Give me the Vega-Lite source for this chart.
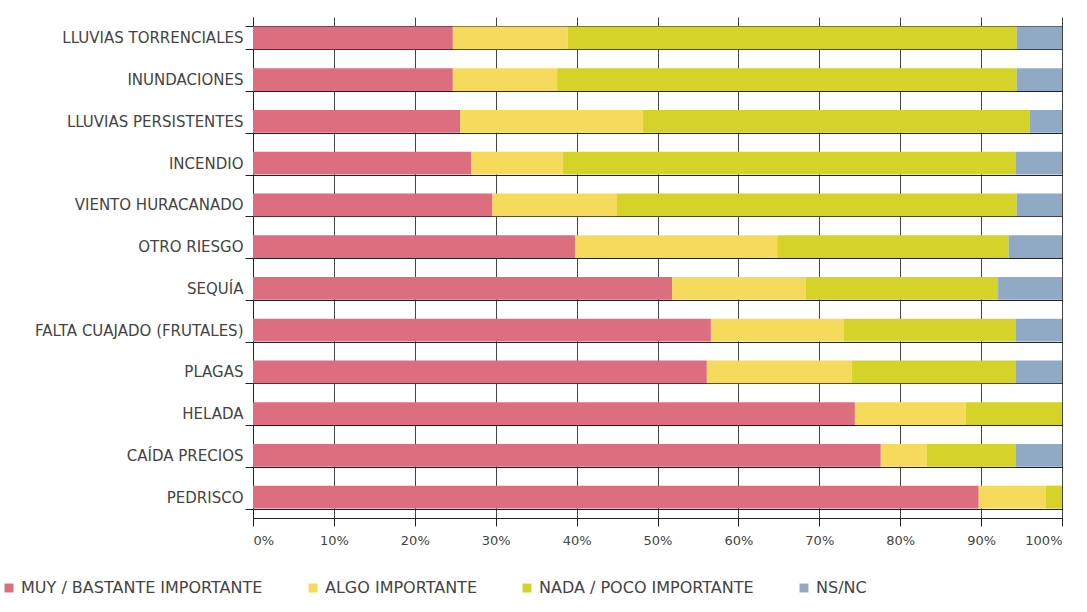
{
  "$schema": "https://vega.github.io/schema/vega-lite/v6.json",
  "width": 809,
  "height": 501,
  "autosize": {"type": "none"},
  "padding": {"left": 253, "top": 17, "right": 25, "bottom": 94},
  "background": "white",
  "config": {
    "font": "DejaVu Sans",
    "view": {"stroke": null}
  },
  "data": {
    "values": [
      {"riesgo": "LLUVIAS TORRENCIALES", "categoria": "MUY / BASTANTE IMPORTANTE", "valor": 24.7},
      {"riesgo": "LLUVIAS TORRENCIALES", "categoria": "ALGO IMPORTANTE", "valor": 14.2},
      {"riesgo": "LLUVIAS TORRENCIALES", "categoria": "NADA / POCO IMPORTANTE", "valor": 55.5},
      {"riesgo": "LLUVIAS TORRENCIALES", "categoria": "NS/NC", "valor": 5.6},
      {"riesgo": "INUNDACIONES", "categoria": "MUY / BASTANTE IMPORTANTE", "valor": 24.7},
      {"riesgo": "INUNDACIONES", "categoria": "ALGO IMPORTANTE", "valor": 12.9},
      {"riesgo": "INUNDACIONES", "categoria": "NADA / POCO IMPORTANTE", "valor": 56.8},
      {"riesgo": "INUNDACIONES", "categoria": "NS/NC", "valor": 5.6},
      {"riesgo": "LLUVIAS PERSISTENTES", "categoria": "MUY / BASTANTE IMPORTANTE", "valor": 25.6},
      {"riesgo": "LLUVIAS PERSISTENTES", "categoria": "ALGO IMPORTANTE", "valor": 22.6},
      {"riesgo": "LLUVIAS PERSISTENTES", "categoria": "NADA / POCO IMPORTANTE", "valor": 47.8},
      {"riesgo": "LLUVIAS PERSISTENTES", "categoria": "NS/NC", "valor": 4.0},
      {"riesgo": "INCENDIO", "categoria": "MUY / BASTANTE IMPORTANTE", "valor": 27.0},
      {"riesgo": "INCENDIO", "categoria": "ALGO IMPORTANTE", "valor": 11.3},
      {"riesgo": "INCENDIO", "categoria": "NADA / POCO IMPORTANTE", "valor": 56.0},
      {"riesgo": "INCENDIO", "categoria": "NS/NC", "valor": 5.7},
      {"riesgo": "VIENTO HURACANADO", "categoria": "MUY / BASTANTE IMPORTANTE", "valor": 29.6},
      {"riesgo": "VIENTO HURACANADO", "categoria": "ALGO IMPORTANTE", "valor": 15.4},
      {"riesgo": "VIENTO HURACANADO", "categoria": "NADA / POCO IMPORTANTE", "valor": 49.4},
      {"riesgo": "VIENTO HURACANADO", "categoria": "NS/NC", "valor": 5.6},
      {"riesgo": "OTRO RIESGO", "categoria": "MUY / BASTANTE IMPORTANTE", "valor": 39.8},
      {"riesgo": "OTRO RIESGO", "categoria": "ALGO IMPORTANTE", "valor": 25.0},
      {"riesgo": "OTRO RIESGO", "categoria": "NADA / POCO IMPORTANTE", "valor": 28.6},
      {"riesgo": "OTRO RIESGO", "categoria": "NS/NC", "valor": 6.6},
      {"riesgo": "SEQUÍA", "categoria": "MUY / BASTANTE IMPORTANTE", "valor": 51.8},
      {"riesgo": "SEQUÍA", "categoria": "ALGO IMPORTANTE", "valor": 16.5},
      {"riesgo": "SEQUÍA", "categoria": "NADA / POCO IMPORTANTE", "valor": 23.8},
      {"riesgo": "SEQUÍA", "categoria": "NS/NC", "valor": 7.9},
      {"riesgo": "FALTA CUAJADO (FRUTALES)", "categoria": "MUY / BASTANTE IMPORTANTE", "valor": 56.6},
      {"riesgo": "FALTA CUAJADO (FRUTALES)", "categoria": "ALGO IMPORTANTE", "valor": 16.4},
      {"riesgo": "FALTA CUAJADO (FRUTALES)", "categoria": "NADA / POCO IMPORTANTE", "valor": 21.3},
      {"riesgo": "FALTA CUAJADO (FRUTALES)", "categoria": "NS/NC", "valor": 5.7},
      {"riesgo": "PLAGAS", "categoria": "MUY / BASTANTE IMPORTANTE", "valor": 56.1},
      {"riesgo": "PLAGAS", "categoria": "ALGO IMPORTANTE", "valor": 17.9},
      {"riesgo": "PLAGAS", "categoria": "NADA / POCO IMPORTANTE", "valor": 20.3},
      {"riesgo": "PLAGAS", "categoria": "NS/NC", "valor": 5.7},
      {"riesgo": "HELADA", "categoria": "MUY / BASTANTE IMPORTANTE", "valor": 74.4},
      {"riesgo": "HELADA", "categoria": "ALGO IMPORTANTE", "valor": 13.7},
      {"riesgo": "HELADA", "categoria": "NADA / POCO IMPORTANTE", "valor": 11.9},
      {"riesgo": "HELADA", "categoria": "NS/NC", "valor": 0},
      {"riesgo": "CAÍDA PRECIOS", "categoria": "MUY / BASTANTE IMPORTANTE", "valor": 77.6},
      {"riesgo": "CAÍDA PRECIOS", "categoria": "ALGO IMPORTANTE", "valor": 5.7},
      {"riesgo": "CAÍDA PRECIOS", "categoria": "NADA / POCO IMPORTANTE", "valor": 11.0},
      {"riesgo": "CAÍDA PRECIOS", "categoria": "NS/NC", "valor": 5.7},
      {"riesgo": "PEDRISCO", "categoria": "MUY / BASTANTE IMPORTANTE", "valor": 89.7},
      {"riesgo": "PEDRISCO", "categoria": "ALGO IMPORTANTE", "valor": 8.3},
      {"riesgo": "PEDRISCO", "categoria": "NADA / POCO IMPORTANTE", "valor": 2.0},
      {"riesgo": "PEDRISCO", "categoria": "NS/NC", "valor": 0}
    ]
  },
  "transform": [
    {"calculate": "indexof(['MUY / BASTANTE IMPORTANTE', 'ALGO IMPORTANTE', 'NADA / POCO IMPORTANTE', 'NS/NC'], datum.categoria)", "as": "orden"}
  ],
  "mark": {"type": "bar"},
  "encoding": {
    "y": {
      "field": "riesgo",
      "type": "nominal",
      "sort": null,
      "title": null,
      "scale": {"paddingInner": 0.45, "paddingOuter": 0.225},
      "axis": {
        "tickBand": "extent",
        "grid": true,
        "gridColor": "#222",
        "gridWidth": 1,
        "domainColor": "#222",
        "tickColor": "#222",
        "tickSize": 8,
        "labelFontSize": 15,
        "labelLimit": 0,
        "labelColor": "#444",
        "labelPadding": 2
      }
    },
    "x": {
      "field": "valor",
      "type": "quantitative",
      "stack": "zero",
      "title": null,
      "scale": {"domain": [0, 100], "nice": false},
      "axis": {
        "values": [0, 10, 20, 30, 40, 50, 60, 70, 80, 90, 100],
        "labelExpr": "datum.value + '%'",
        "grid": true,
        "gridColor": "#444",
        "gridWidth": 1,
        "domainColor": "#222",
        "tickColor": "#222",
        "tickSize": 8,
        "labelFontSize": 13,
        "labelColor": "#444",
        "labelPadding": 8
      }
    },
    "order": {"field": "orden", "type": "quantitative", "sort": "ascending"},
    "color": {
      "field": "categoria",
      "type": "nominal",
      "sort": ["MUY / BASTANTE IMPORTANTE", "ALGO IMPORTANTE", "NADA / POCO IMPORTANTE", "NS/NC"],
      "scale": {
        "domain": ["MUY / BASTANTE IMPORTANTE", "ALGO IMPORTANTE", "NADA / POCO IMPORTANTE", "NS/NC"],
        "range": ["#dc6e80", "#f6da5c", "#d5d22a", "#90aac6"]
      },
      "legend": {
        "title": null,
        "orient": "none",
        "direction": "horizontal",
        "legendX": -252,
        "legendY": 563,
        "symbolType": "square",
        "symbolSize": 80,
        "symbolStrokeWidth": 0,
        "labelFontSize": 16,
        "labelLimit": 0,
        "labelColor": "#444",
        "columnPadding": 42,
        "labelOffset": 4
      }
    }
  }
}
